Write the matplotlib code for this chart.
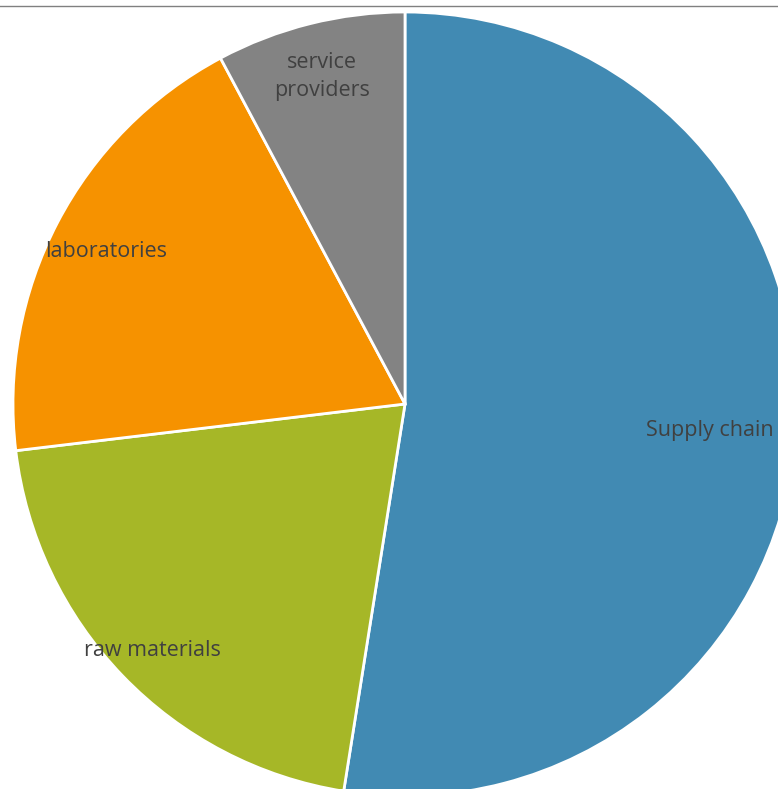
import matplotlib
matplotlib.use("Agg")
import matplotlib.pyplot as plt
from matplotlib.lines import Line2D
import numpy as np

categories = ["Supply chain", "raw materials", "laboratories", "service\nproviders"]
values = [52.5, 20.6, 19.1, 7.8]
colors = ["#418AB3", "#A6B727", "#F69200", "#838383"]
label_dist = [0.78, 0.895, 0.86, 0.87]

W, H = 778, 789
fig = plt.figure(figsize=(W / 100, H / 100), dpi=100)
ax = fig.add_axes([0, 0, 1, 1])

cx, cy, r = 405, H - 404, 392
wedges, texts = ax.pie(values, labels=categories, colors=colors, startangle=90,
                       counterclock=False, center=(cx, cy), radius=r,
                       labeldistance=0.8,
                       wedgeprops=dict(edgecolor="white", linewidth=2.0),
                       textprops=dict(fontsize=15.5, color="#404040", family="Open Sans"))
for w, t, d in zip(wedges, texts, label_dist):
    ang = np.deg2rad((w.theta1 + w.theta2) / 2)
    t.set_position((cx + d * r * np.cos(ang), cy + d * r * np.sin(ang) - 3))
    t.set_ha("center")
    t.set_va("center")
    t.set_multialignment("center")
    t.set_linespacing(1.45)

ax.set_xlim(0, W)
ax.set_ylim(0, H)
ax.set_aspect("equal")
ax.axis("off")

fig.add_artist(Line2D([0, 1], [1 - 5.5 / H, 1 - 5.5 / H], transform=fig.transFigure,
                      color="#808080", linewidth=1.0))

fig.savefig("out.png", dpi=100)
